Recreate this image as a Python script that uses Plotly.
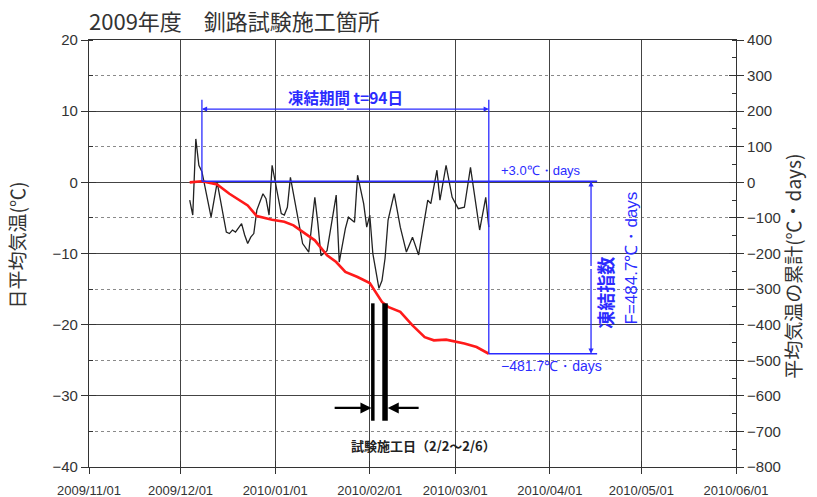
import pandas as pd
import plotly.graph_objects as go

# ---- data -------------------------------------------------------------
# daily mean air temperature (°C)
temp_dates = [
    "2009-12-04", "2009-12-05", "2009-12-06", "2009-12-07", "2009-12-08",
    "2009-12-11", "2009-12-13", "2009-12-16", "2009-12-17", "2009-12-18",
    "2009-12-19", "2009-12-21", "2009-12-22", "2009-12-23", "2009-12-24",
    "2009-12-25", "2009-12-26", "2009-12-28", "2009-12-29", "2009-12-30",
    "2009-12-31", "2010-01-01", "2010-01-03", "2010-01-04", "2010-01-05",
    "2010-01-06", "2010-01-07", "2010-01-09", "2010-01-10", "2010-01-12",
    "2010-01-14", "2010-01-15", "2010-01-16", "2010-01-18", "2010-01-21",
    "2010-01-22", "2010-01-24", "2010-01-25", "2010-01-27", "2010-01-28",
    "2010-01-30", "2010-01-31", "2010-02-01", "2010-02-02", "2010-02-04",
    "2010-02-05", "2010-02-06", "2010-02-07", "2010-02-09", "2010-02-11",
    "2010-02-13", "2010-02-15", "2010-02-17", "2010-02-20", "2010-02-21",
    "2010-02-23", "2010-02-24", "2010-02-26", "2010-02-28", "2010-03-02",
    "2010-03-04", "2010-03-06", "2010-03-09", "2010-03-11", "2010-03-12",
]
temp_values = [
    -2.5, -4.6, 6.1, 2.4, 1.5,
    -4.9, 0.0, -7.0, -7.2, -6.7,
    -7.0, -5.8, -7.4, -8.6, -7.7,
    -7.2, -3.9, -1.6, -2.3, -4.6,
    2.4, 0.3, -4.4, -4.6, -3.5,
    0.7, -1.6, -6.3, -8.6, -9.8,
    -2.1, -5.8, -10.3, -9.6, -1.8,
    -11.2, -6.5, -4.9, -5.6, 1.0,
    -3.0, -6.3, -4.6, -10.0, -14.9,
    -13.8, -10.7, -5.3, -1.6, -6.3,
    -9.8, -7.7, -10.2, -2.5, -3.0,
    1.7, -2.5, 2.4, -2.1, -3.7,
    -3.5, 2.1, -6.7, -2.1, -6.3,
]

# accumulated mean air temperature (°C·days)
cum_dates = [
    "2009-12-04", "2009-12-08", "2009-12-13", "2009-12-17", "2009-12-23",
    "2009-12-26", "2009-12-31", "2010-01-04", "2010-01-07", "2010-01-10",
    "2010-01-14", "2010-01-18", "2010-01-21", "2010-01-24", "2010-01-28",
    "2010-02-01", "2010-02-04", "2010-02-05", "2010-02-07", "2010-02-11",
    "2010-02-15", "2010-02-19", "2010-02-22", "2010-02-26", "2010-03-04",
    "2010-03-08", "2010-03-12",
]
cum_values = [
    0.0, 3.0, -6.0, -32.0, -65.0,
    -95.0, -105.0, -111.0, -121.0, -140.0,
    -163.0, -205.0, -224.0, -252.0, -266.0,
    -283.0, -320.0, -336.0, -350.0, -364.0,
    -402.0, -435.0, -444.0, -442.0, -453.0,
    -463.0, -481.7,
]

# freezing period and test construction days
freeze_start = "2009-12-08"
freeze_end = "2010-03-12"
cum_at_start = 3.0
cum_at_end = -481.7
work_start = "2010-02-02"
work_end = "2010-02-06"

month_ticks = ["2009-11-01", "2009-12-01", "2010-01-01", "2010-02-01",
               "2010-03-01", "2010-04-01", "2010-05-01", "2010-06-01"]

# ---- derived quantities -------------------------------------------------
fs, fe = pd.Timestamp(freeze_start), pd.Timestamp(freeze_end)
freeze_days = (fe - fs).days
freeze_index = cum_at_start - cum_at_end
day = pd.Timedelta(days=1)

BLUE = "#2b2bff"
INK = "#333333"
NUM_FONT = "Liberation Sans, Arial, sans-serif"
JP_FONT = "Noto Sans CJK JP, sans-serif"


def minus(s):
    return s.replace("-", "\u2212")


fig = go.Figure()

fig.add_trace(go.Scatter(
    x=temp_dates, y=temp_values, mode="lines",
    line=dict(color="#222222", width=1.3), yaxis="y", showlegend=False,
))
fig.add_trace(go.Scatter(
    x=cum_dates, y=cum_values, mode="lines",
    line=dict(color="#ff1a1a", width=2.6), yaxis="y2", showlegend=False,
))
# empty traces that carry the inner tick axes
fig.add_trace(go.Scatter(x=[None], y=[None], xaxis="x2", yaxis="y3", showlegend=False))
fig.add_trace(go.Scatter(x=[None], y=[None], xaxis="x", yaxis="y4", showlegend=False))

shapes = []
# test-construction bars
for d, w in ((work_start, 3.5), (work_end, 5.5)):
    shapes.append(dict(type="line", xref="x", yref="y", x0=d, x1=d, y0=-17.0, y1=-33.5,
                       line=dict(color="black", width=w)))

# freezing period / freezing index guides (in °C·days)
x_guide = fe + pd.Timedelta(days=35.5)
top_guide = 232
shapes += [
    dict(type="line", xref="x", yref="y2", x0=fs, x1=x_guide, y0=cum_at_start, y1=cum_at_start,
         line=dict(color=BLUE, width=1.3)),
    dict(type="line", xref="x", yref="y2", x0=fe, x1=x_guide, y0=cum_at_end, y1=cum_at_end,
         line=dict(color=BLUE, width=1.3)),
    dict(type="line", xref="x", yref="y2", x0=fs, x1=fs, y0=cum_at_start, y1=top_guide,
         line=dict(color=BLUE, width=1.3)),
    dict(type="line", xref="x", yref="y2", x0=fe, x1=fe, y0=cum_at_end, y1=top_guide,
         line=dict(color=BLUE, width=1.3)),
]

annotations = []
# horizontal freezing-period arrow
mid = fs + (fe - fs) / 2
y_arrow = 206
for end in (fs, fe):
    annotations.append(dict(x=end, y=y_arrow, xref="x", yref="y2", ax=mid, ay=y_arrow,
                            axref="x", ayref="y2", text="", showarrow=True, arrowhead=2,
                            arrowsize=0.8, arrowwidth=1.3, arrowcolor=BLUE, standoff=0))
annotations.append(dict(x=mid, y=y_arrow, xref="x", yref="y2", yanchor="bottom", yshift=-1,
                        text=f"<b>凍結期間 t={freeze_days}日</b>", showarrow=False,
                        font=dict(family=JP_FONT, size=15.5, color=BLUE)))

# vertical freezing-index arrow
x_idx = fe + pd.Timedelta(days=33.5)
y_mid = (cum_at_start + cum_at_end) / 2
for end in (cum_at_start, cum_at_end):
    annotations.append(dict(x=x_idx, y=end, xref="x", yref="y2", ax=x_idx, ay=y_mid,
                            axref="x", ayref="y2", text="", showarrow=True, arrowhead=2,
                            arrowsize=0.8, arrowwidth=1.3, arrowcolor=BLUE, standoff=0))
annotations += [
    dict(x=fe + pd.Timedelta(days=38.2), y=-309, xref="x", yref="y2", textangle=-90,
         text="<b>凍結指数</b>", showarrow=False,
         font=dict(family=JP_FONT, size=18, color=BLUE)),
    dict(x=fe + pd.Timedelta(days=46.8), y=-212, xref="x", yref="y2", textangle=-90,
         text=f"F={freeze_index:.1f}℃・days", showarrow=False,
         font=dict(family=NUM_FONT, size=17, color=BLUE)),
    dict(x=fe + pd.Timedelta(days=3.3), y=cum_at_start, xref="x", yref="y2",
         xanchor="left", yanchor="bottom", yshift=1,
         text=f"+{cum_at_start:.1f}℃・days", showarrow=False,
         font=dict(family=NUM_FONT, size=13, color=BLUE)),
    dict(x=fe + pd.Timedelta(days=3.3), y=cum_at_end, xref="x", yref="y2",
         xanchor="left", yanchor="top", yshift=-2,
         text=minus(f"{cum_at_end:.1f}℃・days"), showarrow=False,
         font=dict(family=NUM_FONT, size=14, color=BLUE)),
]

# construction-day arrows and label
ws, we = pd.Timestamp(work_start), pd.Timestamp(work_end)
annotations += [
    dict(x=ws - 0.45 * day, y=-31.7, xref="x", yref="y", ax=ws - 13 * day, ay=-31.7,
         axref="x", ayref="y", text="", showarrow=True, arrowhead=2, arrowsize=1,
         arrowwidth=2.2, arrowcolor="black", standoff=0),
    dict(x=we + 0.9 * day, y=-31.7, xref="x", yref="y", ax=we + 11.5 * day, ay=-31.7,
         axref="x", ayref="y", text="", showarrow=True, arrowhead=2, arrowsize=1,
         arrowwidth=2.2, arrowcolor="black", standoff=0),
    dict(x=ws + (we - ws) / 2 + 14.5 * day, y=-37.0, xref="x", yref="y",
         text="<b>試験施工日（2/2～2/6）</b>", showarrow=False,
         font=dict(family=JP_FONT, size=13, color="#222222")),
]

# title and axis titles
annotations += [
    dict(x=0, y=1, xref="paper", yref="paper", xanchor="left", yanchor="middle",
         xshift=-2, yshift=20, text="2009年度\u3000釧路試験施工箇所", showarrow=False,
         font=dict(family=JP_FONT, size=22, color=INK)),
    dict(x=0, y=0.52, xref="paper", yref="paper", xshift=-88, textangle=-90,
         text="日平均気温(℃)", showarrow=False,
         font=dict(family=JP_FONT, size=19, color=INK)),
    dict(x=1, y=0.47, xref="paper", yref="paper", xshift=72, textangle=-90,
         text="平均気温の累計(℃・days)", showarrow=False,
         font=dict(family=JP_FONT, size=19, color=INK)),
]

x_common = dict(type="date", range=[month_ticks[0], month_ticks[-1]],
                tickvals=month_ticks, automargin=False)
fig.update_layout(
    width=817, height=497,
    margin=dict(l=89, r=81, t=40, b=30, autoexpand=False),
    paper_bgcolor="white", plot_bgcolor="white",
    hovermode=False,
    xaxis=dict(**x_common, ticktext=[d.replace("-", "/") for d in month_ticks],
               ticks="outside", ticklen=6, tickcolor=INK, ticklabelstandoff=5,
               showgrid=True, gridcolor="#444444", gridwidth=1,
               showline=True, linecolor=INK, linewidth=1.2, mirror=True,
               tickfont=dict(family="Liberation Sans Narrow, " + NUM_FONT, size=13, color=INK),
               zeroline=False),
    xaxis2=dict(**x_common, overlaying="x", side="bottom", anchor="y",
                ticks="inside", ticklen=6, tickcolor=INK, showticklabels=False,
                showgrid=False, showline=False, zeroline=False),
    yaxis=dict(range=[-40, 20], dtick=10, tick0=0, ticks="outside", ticklen=7,
               tickcolor=INK, showgrid=True, gridcolor="#444444", gridwidth=1,
               showline=True, linecolor=INK, linewidth=1.2, zeroline=False,
               automargin=False,
               tickfont=dict(family=NUM_FONT, size=15, color=INK),
               minor=dict(dtick=5, tick0=0, showgrid=True, griddash="dot",
                          gridcolor="#8a8a8a", gridwidth=1, ticks="inside",
                          ticklen=4, tickcolor=INK)),
    yaxis2=dict(range=[-800, 400], dtick=100, tick0=0, overlaying="y", side="right",
                anchor="x", ticks="outside", ticklen=7, tickcolor=INK, showgrid=False,
                showline=True, linecolor=INK, linewidth=1.2, zeroline=False,
                automargin=False,
                tickfont=dict(family=NUM_FONT, size=15, color=INK),
                minor=dict(dtick=50, tick0=0, ticks="inside", ticklen=4, tickcolor=INK)),
    yaxis3=dict(range=[-40, 20], dtick=10, tick0=0, overlaying="y", side="left",
                anchor="x2", ticks="inside", ticklen=7, tickcolor=INK, automargin=False,
                showticklabels=False, showgrid=False, zeroline=False, showline=False),
    yaxis4=dict(range=[-800, 400], dtick=100, tick0=0, overlaying="y", side="right",
                anchor="x", ticks="inside", ticklen=7, tickcolor=INK, automargin=False,
                showticklabels=False, showgrid=False, zeroline=False, showline=False),
    shapes=shapes,
    annotations=annotations,
)

fig.write_html("out.html")
